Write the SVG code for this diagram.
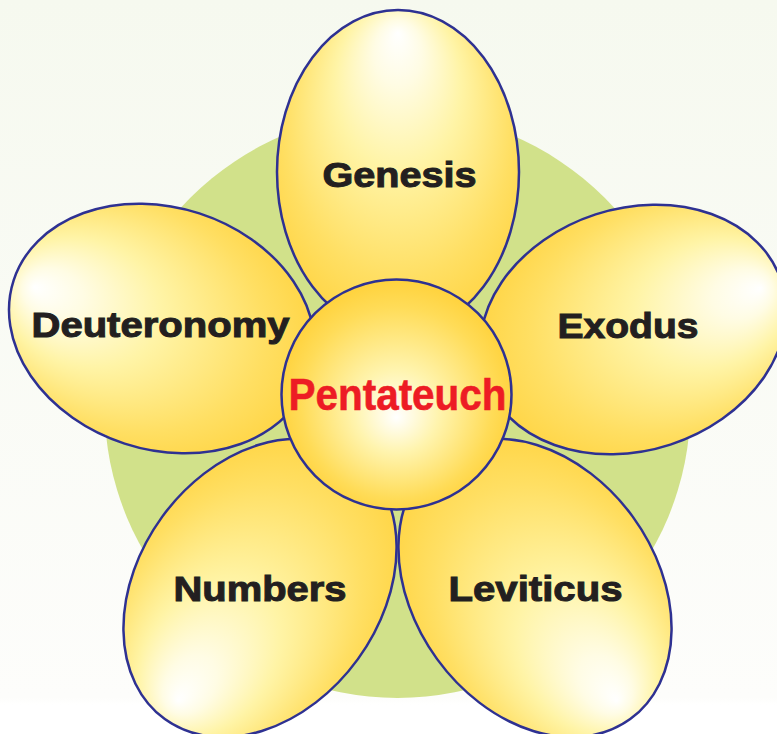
<svg xmlns="http://www.w3.org/2000/svg" width="777" height="734" viewBox="0 0 777 734">
  <defs>
    <linearGradient id="bg" x1="0" y1="0" x2="0" y2="1">
      <stop offset="0" stop-color="#f6f9ef"/>
      <stop offset="0.95" stop-color="#fdfdfb"/>
      <stop offset="0.96" stop-color="#ffffff"/>
    </linearGradient>
    <radialGradient id="petalGrad" cx="0.5" cy="0.45" r="0.62" fx="0.5" fy="0.07">
      <stop offset="0" stop-color="#ffffff"/>
      <stop offset="0.16" stop-color="#fffce4"/>
      <stop offset="0.42" stop-color="#fff4a6"/>
      <stop offset="0.76" stop-color="#ffdf63"/>
      <stop offset="1" stop-color="#ffd23c"/>
    </radialGradient>
    <radialGradient id="centerGrad" cx="0.5" cy="0.52" r="0.52" fx="0.5" fy="0.6">
      <stop offset="0" stop-color="#ffffff"/>
      <stop offset="0.35" stop-color="#fff4ae"/>
      <stop offset="0.8" stop-color="#ffdc58"/>
      <stop offset="1" stop-color="#ffd23c"/>
    </radialGradient>
  </defs>
  <style>
    .petal { fill: url(#petalGrad); stroke: #2e3192; stroke-width: 2.5; }
    .hub { fill: url(#centerGrad); stroke: #2e3192; stroke-width: 2.5; }
    .label { font-family: "Liberation Sans", Arial, sans-serif; font-weight: bold; font-size: 35px; fill: #231f20; stroke: #231f20; stroke-width: 1; text-anchor: middle; }
    .title { font-family: "Liberation Sans Narrow", "Liberation Sans", Arial, sans-serif; font-weight: bold; font-size: 45px; fill: #ed1c24; stroke: #ed1c24; stroke-width: 0.6; text-anchor: middle; }
  </style>
  <rect x="0" y="0" width="777" height="734" fill="url(#bg)"/>
  <circle cx="397.5" cy="405" r="293" fill="#d1e18a"/>
  <g id="connectors"></g>
  <g id="genesis">
    <ellipse class="petal" cx="0" cy="0" rx="121" ry="162" transform="translate(398 172)"/>
    <text class="label" x="399.5" y="187" textLength="154" lengthAdjust="spacingAndGlyphs">Genesis</text>
  </g>
  <g id="exodus">
    <ellipse class="petal" cx="0" cy="0" rx="121" ry="156" transform="translate(633 329.5) rotate(72)"/>
    <text class="label" x="628" y="337.5" textLength="141" lengthAdjust="spacingAndGlyphs">Exodus</text>
  </g>
  <g id="leviticus">
    <ellipse class="petal" cx="0" cy="0" rx="121" ry="162" transform="translate(535 588) rotate(144)"/>
    <text class="label" x="535.5" y="600.5" textLength="174" lengthAdjust="spacingAndGlyphs">Leviticus</text>
  </g>
  <g id="numbers">
    <ellipse class="petal" cx="0" cy="0" rx="121" ry="162" transform="translate(260 588) rotate(-144)"/>
    <text class="label" x="260" y="600.5" textLength="173" lengthAdjust="spacingAndGlyphs">Numbers</text>
  </g>
  <g id="deuteronomy">
    <ellipse class="petal" cx="0" cy="0" rx="121" ry="156" transform="translate(162 328.5) rotate(-72)"/>
    <text class="label" x="160.5" y="337" textLength="258" lengthAdjust="spacingAndGlyphs">Deuteronomy</text>
  </g>
  <g id="pentateuch">
    <circle class="hub" cx="396.5" cy="394.5" r="115"/>
    <text class="title" x="397.5" y="410" textLength="218" lengthAdjust="spacingAndGlyphs">Pentateuch</text>
  </g>
</svg>
